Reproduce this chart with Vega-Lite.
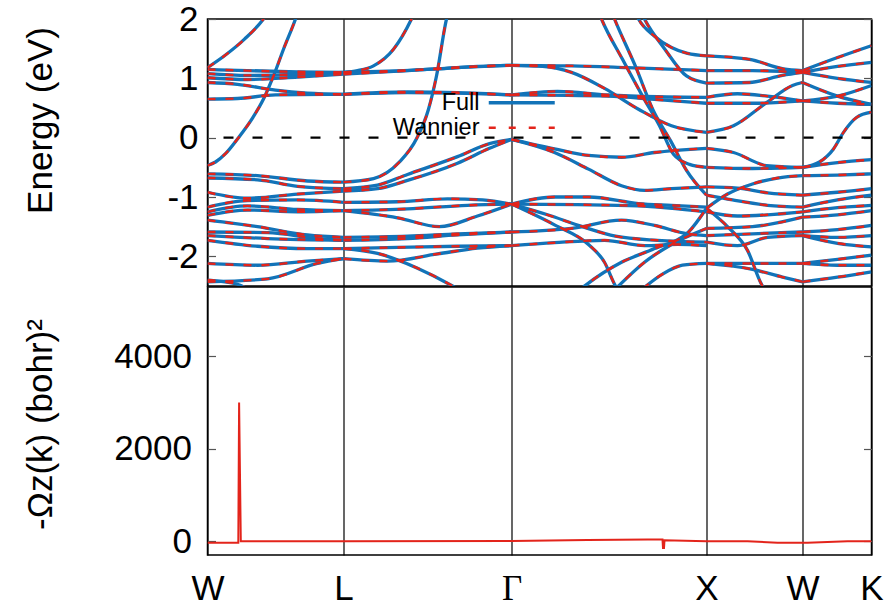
{
"$schema": "https://vega.github.io/schema/vega-lite/v6.json",
"padding": {"left": 21.5, "top": 1, "right": 5, "bottom": 0},
"config": {
  "font": "Liberation Sans",
  "view": {"stroke": "black", "strokeWidth": 1.5},
  "axis": {"labelFont": "Liberation Sans", "labelFontSize": 35, "titleFont": "Liberation Sans", "titleFontSize": 35, "titleFontWeight": "normal", "labelColor": "black", "titleColor": "black", "domain": false, "grid": false, "tickColor": "#555", "tickSize": -8, "tickWidth": 1.2}
},
"datasets": {
  "bands": [
    {"b":"a1","k":0,"e":1.18},{"b":"a1","k":17,"e":1.38},{"b":"a1","k":37,"e":1.66},{"b":"a1","k":56,"e":2.0},{"b":"a1","k":66,"e":2.25},
    {"b":"a2","k":0,"e":-0.47},{"b":"a2","k":8,"e":-0.41},{"b":"a2","k":18,"e":-0.27},{"b":"a2","k":31,"e":0},{"b":"a2","k":45,"e":0.33},{"b":"a2","k":56,"e":0.65},{"b":"a2","k":66,"e":1.04},{"b":"a2","k":76,"e":1.49},{"b":"a2","k":88,"e":2.0},{"b":"a2","k":94,"e":2.3},
    {"b":"a3","k":0,"e":1.15},{"b":"a3","k":40,"e":1.13},{"b":"a3","k":90,"e":1.11},{"b":"a3","k":136,"e":1.10},
    {"b":"a4","k":0,"e":1.08},{"b":"a4","k":40,"e":1.05},{"b":"a4","k":80,"e":1.06},{"b":"a4","k":136,"e":1.10},
    {"b":"a5","k":0,"e":1.01},{"b":"a5","k":40,"e":0.98},{"b":"a5","k":90,"e":1.02},{"b":"a5","k":136,"e":1.07},
    {"b":"a6","k":0,"e":0.93},{"b":"a6","k":30,"e":0.90},{"b":"a6","k":68,"e":0.80},{"b":"a6","k":100,"e":0.75},{"b":"a6","k":136,"e":0.73},
    {"b":"a7","k":0,"e":0.65},{"b":"a7","k":30,"e":0.66},{"b":"a7","k":68,"e":0.72},{"b":"a7","k":136,"e":0.73},
    {"b":"a8","k":0,"e":-0.61},{"b":"a8","k":50,"e":-0.64},{"b":"a8","k":100,"e":-0.73},{"b":"a8","k":136,"e":-0.75},
    {"b":"a9","k":0,"e":-0.68},{"b":"a9","k":50,"e":-0.71},{"b":"a9","k":90,"e":-0.82},{"b":"a9","k":136,"e":-0.86},
    {"b":"a10","k":0,"e":-0.92},{"b":"a10","k":40,"e":-1.02},{"b":"a10","k":90,"e":-0.95},{"b":"a10","k":136,"e":-0.90},
    {"b":"a11","k":0,"e":-1.17},{"b":"a11","k":40,"e":-1.06},{"b":"a11","k":90,"e":-1.05},{"b":"a11","k":136,"e":-1.09},
    {"b":"a12","k":0,"e":-1.25},{"b":"a12","k":40,"e":-1.15},{"b":"a12","k":90,"e":-1.21},{"b":"a12","k":136,"e":-1.23},
    {"b":"a13","k":0,"e":-1.31},{"b":"a13","k":40,"e":-1.22},{"b":"a13","k":90,"e":-1.25},{"b":"a13","k":136,"e":-1.23},
    {"b":"a14","k":0,"e":-1.39},{"b":"a14","k":50,"e":-1.50},{"b":"a14","k":100,"e":-1.64},{"b":"a14","k":136,"e":-1.68},
    {"b":"a15","k":0,"e":-1.59},{"b":"a15","k":60,"e":-1.60},{"b":"a15","k":110,"e":-1.70},{"b":"a15","k":136,"e":-1.73},
    {"b":"a16","k":0,"e":-1.65},{"b":"a16","k":60,"e":-1.70},{"b":"a16","k":136,"e":-1.73},
    {"b":"a17","k":0,"e":-1.73},{"b":"a17","k":50,"e":-1.83},{"b":"a17","k":100,"e":-1.87},{"b":"a17","k":136,"e":-1.87},
    {"b":"a18","k":0,"e":-2.12},{"b":"a18","k":50,"e":-2.15},{"b":"a18","k":100,"e":-2.08},{"b":"a18","k":136,"e":-2.04},
    {"b":"a19","k":0,"e":-2.43},{"b":"a19","k":60,"e":-2.38},{"b":"a19","k":110,"e":-2.12},{"b":"a19","k":136,"e":-2.04},
    {"b":"a20","k":0,"e":-2.40},{"b":"a20","k":30,"e":-2.47},{"b":"a20","k":45,"e":-2.6},
    {"b":"b1","k":136,"e":1.10},{"b":"b1","k":150,"e":1.13},{"b":"b1","k":166,"e":1.21},{"b":"b1","k":186,"e":1.49},{"b":"b1","k":204,"e":2.0},{"b":"b1","k":212,"e":2.3},
    {"b":"b2","k":136,"e":1.10},{"b":"b2","k":180,"e":1.12},{"b":"b2","k":230,"e":1.16},{"b":"b2","k":270,"e":1.20},{"b":"b2","k":304,"e":1.22},
    {"b":"b3","k":136,"e":1.07},{"b":"b3","k":200,"e":1.13},{"b":"b3","k":260,"e":1.19},{"b":"b3","k":304,"e":1.22},
    {"b":"b4","k":136,"e":0.73},{"b":"b4","k":200,"e":0.77},{"b":"b4","k":250,"e":0.76},{"b":"b4","k":304,"e":0.72},
    {"b":"b5","k":136,"e":0.73},{"b":"b5","k":200,"e":0.76},{"b":"b5","k":250,"e":0.75},{"b":"b5","k":304,"e":0.72},
    {"b":"b6","k":136,"e":-0.75},{"b":"b6","k":166,"e":-0.69},{"b":"b6","k":192,"e":-0.41},{"b":"b6","k":209,"e":-0.02},{"b":"b6","k":221,"e":0.48},{"b":"b6","k":229,"e":1.04},{"b":"b6","k":239,"e":2.0},{"b":"b6","k":244,"e":2.3},
    {"b":"b7","k":136,"e":-0.86},{"b":"b7","k":170,"e":-0.80},{"b":"b7","k":200,"e":-0.62},{"b":"b7","k":250,"e":-0.32},{"b":"b7","k":282,"e":-0.10},{"b":"b7","k":304,"e":-0.03},
    {"b":"b8","k":136,"e":-0.90},{"b":"b8","k":170,"e":-0.86},{"b":"b8","k":200,"e":-0.72},{"b":"b8","k":250,"e":-0.43},{"b":"b8","k":282,"e":-0.18},{"b":"b8","k":304,"e":-0.03},
    {"b":"b9","k":136,"e":-1.09},{"b":"b9","k":190,"e":-1.08},{"b":"b9","k":240,"e":-1.03},{"b":"b9","k":275,"e":-1.05},{"b":"b9","k":304,"e":-1.12},
    {"b":"b10","k":136,"e":-1.23},{"b":"b10","k":190,"e":-1.35},{"b":"b10","k":232,"e":-1.50},{"b":"b10","k":270,"e":-1.32},{"b":"b10","k":304,"e":-1.12},
    {"b":"b11","k":136,"e":-1.23},{"b":"b11","k":200,"e":-1.20},{"b":"b11","k":260,"e":-1.14},{"b":"b11","k":304,"e":-1.12},
    {"b":"b12","k":136,"e":-1.68},{"b":"b12","k":200,"e":-1.66},{"b":"b12","k":250,"e":-1.62},{"b":"b12","k":304,"e":-1.59},
    {"b":"b13","k":136,"e":-1.73},{"b":"b13","k":200,"e":-1.70},{"b":"b13","k":250,"e":-1.64},{"b":"b13","k":304,"e":-1.59},
    {"b":"b14","k":136,"e":-1.87},{"b":"b14","k":190,"e":-1.85},{"b":"b14","k":250,"e":-1.83},{"b":"b14","k":304,"e":-1.82},
    {"b":"b15","k":136,"e":-2.04},{"b":"b15","k":180,"e":-2.08},{"b":"b15","k":230,"e":-1.96},{"b":"b15","k":270,"e":-1.86},{"b":"b15","k":304,"e":-1.82},
    {"b":"b16","k":136,"e":-1.87},{"b":"b16","k":170,"e":-1.95},{"b":"b16","k":210,"e":-2.20},{"b":"b16","k":245,"e":-2.5},{"b":"b16","k":255,"e":-2.6},
    {"b":"c1","k":304,"e":1.22},{"b":"c1","k":364,"e":1.21},{"b":"c1","k":420,"e":1.18},{"b":"c1","k":499,"e":1.13},
    {"b":"c2","k":304,"e":1.22},{"b":"c2","k":335,"e":1.20},{"b":"c2","k":364,"e":1.10},{"b":"c2","k":397,"e":0.83},{"b":"c2","k":431,"e":0.48},{"b":"c2","k":464,"e":0.20},{"b":"c2","k":499,"e":0.09},
    {"b":"c3","k":304,"e":0.72},{"b":"c3","k":350,"e":0.78},{"b":"c3","k":400,"e":0.72},{"b":"c3","k":450,"e":0.69},{"b":"c3","k":499,"e":0.68},
    {"b":"c4","k":304,"e":0.72},{"b":"c4","k":400,"e":0.70},{"b":"c4","k":450,"e":0.64},{"b":"c4","k":499,"e":0.58},
    {"b":"c5","k":387,"e":2.3},{"b":"c5","k":394,"e":2.0},{"b":"c5","k":415,"e":1.32},{"b":"c5","k":436,"e":0.67},{"b":"c5","k":452,"e":0.2},{"b":"c5","k":466,"e":-0.28},{"b":"c5","k":482,"e":-0.45},{"b":"c5","k":499,"e":-0.5},
    {"b":"c6","k":400,"e":2.3},{"b":"c6","k":407,"e":2.0},{"b":"c6","k":428,"e":1.2},{"b":"c6","k":446,"e":0.45},{"b":"c6","k":463,"e":-0.05},{"b":"c6","k":479,"e":-0.55},{"b":"c6","k":499,"e":-0.97},
    {"b":"c7","k":424,"e":2.25},{"b":"c7","k":431,"e":2.0},{"b":"c7","k":447,"e":1.71},{"b":"c7","k":464,"e":1.52},{"b":"c7","k":480,"e":1.42},{"b":"c7","k":499,"e":1.38},
    {"b":"c8","k":430,"e":2.25},{"b":"c8","k":437,"e":2.0},{"b":"c8","k":457,"e":1.5},{"b":"c8","k":479,"e":1.04},{"b":"c8","k":499,"e":0.92},
    {"b":"c9","k":304,"e":-0.03},{"b":"c9","k":347,"e":-0.19},{"b":"c9","k":381,"e":-0.30},{"b":"c9","k":414,"e":-0.33},{"b":"c9","k":447,"e":-0.25},{"b":"c9","k":499,"e":-0.18},
    {"b":"c10","k":304,"e":-0.03},{"b":"c10","k":347,"e":-0.25},{"b":"c10","k":381,"e":-0.53},{"b":"c10","k":414,"e":-0.81},{"b":"c10","k":437,"e":-0.89},{"b":"c10","k":464,"e":-0.86},{"b":"c10","k":499,"e":-0.83},
    {"b":"c11","k":304,"e":-1.12},{"b":"c11","k":347,"e":-1.0},{"b":"c11","k":381,"e":-1.0},{"b":"c11","k":431,"e":-1.11},{"b":"c11","k":464,"e":-1.14},{"b":"c11","k":499,"e":-1.17},
    {"b":"c12","k":304,"e":-1.12},{"b":"c12","k":370,"e":-1.13},{"b":"c12","k":430,"e":-1.15},{"b":"c12","k":499,"e":-1.25},
    {"b":"c13","k":304,"e":-1.12},{"b":"c13","k":340,"e":-1.3},{"b":"c13","k":375,"e":-1.5},{"b":"c13","k":408,"e":-1.66},{"b":"c13","k":450,"e":-1.73},{"b":"c13","k":499,"e":-1.76},
    {"b":"c14","k":304,"e":-1.12},{"b":"c14","k":347,"e":-1.47},{"b":"c14","k":381,"e":-1.8},{"b":"c14","k":397,"e":-2.1},{"b":"c14","k":408,"e":-2.5},{"b":"c14","k":412,"e":-2.6},
    {"b":"c15","k":304,"e":-1.59},{"b":"c15","k":364,"e":-1.53},{"b":"c15","k":414,"e":-1.39},{"b":"c15","k":447,"e":-1.48},{"b":"c15","k":480,"e":-1.62},{"b":"c15","k":499,"e":-1.65},
    {"b":"c16","k":304,"e":-1.82},{"b":"c16","k":347,"e":-1.77},{"b":"c16","k":397,"e":-1.73},{"b":"c16","k":437,"e":-1.82},{"b":"c16","k":470,"e":-1.80},{"b":"c16","k":499,"e":-1.82},
    {"b":"c17","k":370,"e":-2.6},{"b":"c17","k":378,"e":-2.49},{"b":"c17","k":414,"e":-2.1},{"b":"c17","k":447,"e":-1.87},{"b":"c17","k":481,"e":-1.59},{"b":"c17","k":499,"e":-1.19},
    {"b":"c18","k":405,"e":-2.6},{"b":"c18","k":411,"e":-2.5},{"b":"c18","k":437,"e":-2.1},{"b":"c18","k":464,"e":-1.8},{"b":"c18","k":499,"e":-1.53},
    {"b":"c19","k":435,"e":-2.55},{"b":"c19","k":455,"e":-2.3},{"b":"c19","k":475,"e":-2.15},{"b":"c19","k":499,"e":-2.12},
    {"b":"d1","k":499,"e":1.38},{"b":"d1","k":542,"e":1.32},{"b":"d1","k":576,"e":1.16},{"b":"d1","k":595,"e":1.13},
    {"b":"d2","k":499,"e":1.13},{"b":"d2","k":545,"e":1.13},{"b":"d2","k":595,"e":1.10},
    {"b":"d3","k":499,"e":0.92},{"b":"d3","k":542,"e":0.93},{"b":"d3","k":575,"e":1.05},{"b":"d3","k":595,"e":1.10},
    {"b":"d4","k":499,"e":0.68},{"b":"d4","k":530,"e":0.74},{"b":"d4","k":560,"e":0.70},{"b":"d4","k":595,"e":0.62},
    {"b":"d5","k":499,"e":0.58},{"b":"d5","k":545,"e":0.58},{"b":"d5","k":595,"e":0.62},
    {"b":"d6","k":499,"e":0.09},{"b":"d6","k":526,"e":0.2},{"b":"d6","k":559,"e":0.59},{"b":"d6","k":585,"e":0.88},{"b":"d6","k":595,"e":0.93},
    {"b":"d7","k":499,"e":-0.18},{"b":"d7","k":526,"e":-0.25},{"b":"d7","k":559,"e":-0.47},{"b":"d7","k":595,"e":-0.5},
    {"b":"d8","k":499,"e":-0.5},{"b":"d8","k":545,"e":-0.52},{"b":"d8","k":595,"e":-0.5},
    {"b":"d9","k":499,"e":-0.83},{"b":"d9","k":530,"e":-0.85},{"b":"d9","k":560,"e":-0.93},{"b":"d9","k":595,"e":-0.97},
    {"b":"d10","k":499,"e":-1.19},{"b":"d10","k":520,"e":-0.95},{"b":"d10","k":545,"e":-0.78},{"b":"d10","k":570,"e":-0.68},{"b":"d10","k":595,"e":-0.64},
    {"b":"d11","k":499,"e":-0.97},{"b":"d11","k":525,"e":-1.05},{"b":"d11","k":560,"e":-1.14},{"b":"d11","k":595,"e":-1.17},
    {"b":"d12","k":499,"e":-1.25},{"b":"d12","k":530,"e":-1.32},{"b":"d12","k":560,"e":-1.30},{"b":"d12","k":595,"e":-1.25},
    {"b":"d13","k":499,"e":-1.19},{"b":"d13","k":520,"e":-1.5},{"b":"d13","k":540,"e":-1.9},{"b":"d13","k":555,"e":-2.5},{"b":"d13","k":560,"e":-2.6},
    {"b":"d14","k":499,"e":-1.53},{"b":"d14","k":545,"e":-1.50},{"b":"d14","k":595,"e":-1.34},
    {"b":"d15","k":499,"e":-1.65},{"b":"d15","k":545,"e":-1.62},{"b":"d15","k":595,"e":-1.59},
    {"b":"d16","k":499,"e":-1.76},{"b":"d16","k":530,"e":-1.82},{"b":"d16","k":560,"e":-1.68},{"b":"d16","k":595,"e":-1.65},
    {"b":"d17","k":499,"e":-2.12},{"b":"d17","k":545,"e":-2.12},{"b":"d17","k":595,"e":-2.12},
    {"b":"d18","k":499,"e":-2.12},{"b":"d18","k":545,"e":-2.22},{"b":"d18","k":575,"e":-2.35},{"b":"d18","k":595,"e":-2.43},
    {"b":"e1","k":595,"e":1.13},{"b":"e1","k":630,"e":1.35},{"b":"e1","k":664,"e":1.55},
    {"b":"e2","k":595,"e":1.10},{"b":"e2","k":630,"e":1.20},{"b":"e2","k":664,"e":1.27},
    {"b":"e3","k":595,"e":1.10},{"b":"e3","k":630,"e":1.00},{"b":"e3","k":664,"e":0.93},
    {"b":"e4","k":595,"e":0.93},{"b":"e4","k":630,"e":0.70},{"b":"e4","k":664,"e":0.56},
    {"b":"e5","k":595,"e":0.62},{"b":"e5","k":630,"e":0.70},{"b":"e5","k":664,"e":0.88},
    {"b":"e6","k":595,"e":0.62},{"b":"e6","k":630,"e":0.58},{"b":"e6","k":664,"e":0.56},
    {"b":"e7","k":595,"e":-0.5},{"b":"e7","k":612,"e":-0.41},{"b":"e7","k":626,"e":-0.19},{"b":"e7","k":636,"e":0.09},{"b":"e7","k":649,"e":0.34},{"b":"e7","k":664,"e":0.43},
    {"b":"e8","k":595,"e":-0.5},{"b":"e8","k":630,"e":-0.42},{"b":"e8","k":664,"e":-0.37},
    {"b":"e9","k":595,"e":-0.64},{"b":"e9","k":630,"e":-0.63},{"b":"e9","k":664,"e":-0.61},
    {"b":"e10","k":595,"e":-0.97},{"b":"e10","k":630,"e":-0.92},{"b":"e10","k":664,"e":-0.86},
    {"b":"e11","k":595,"e":-1.17},{"b":"e11","k":630,"e":-1.05},{"b":"e11","k":664,"e":-0.97},
    {"b":"e12","k":595,"e":-1.25},{"b":"e12","k":630,"e":-1.18},{"b":"e12","k":664,"e":-1.14},
    {"b":"e13","k":595,"e":-1.34},{"b":"e13","k":630,"e":-1.30},{"b":"e13","k":664,"e":-1.23},
    {"b":"e14","k":595,"e":-1.59},{"b":"e14","k":630,"e":-1.55},{"b":"e14","k":664,"e":-1.48},
    {"b":"e15","k":595,"e":-1.65},{"b":"e15","k":630,"e":-1.68},{"b":"e15","k":664,"e":-1.65},
    {"b":"e16","k":595,"e":-1.65},{"b":"e16","k":630,"e":-1.78},{"b":"e16","k":664,"e":-1.84},
    {"b":"e17","k":595,"e":-2.12},{"b":"e17","k":630,"e":-2.05},{"b":"e17","k":664,"e":-1.98},
    {"b":"e18","k":595,"e":-2.12},{"b":"e18","k":630,"e":-2.15},{"b":"e18","k":664,"e":-2.15},
    {"b":"e19","k":595,"e":-2.43},{"b":"e19","k":630,"e":-2.35},{"b":"e19","k":664,"e":-2.26}
  ],
  "berry": [
    {"k":0,"v":-36},{"k":30.8,"v":-36},{"k":31.6,"v":3000},{"k":33.3,"v":0},{"k":136,"v":0},{"k":304,"v":5},{"k":380,"v":25},{"k":440,"v":35},{"k":455,"v":35},{"k":455.5,"v":-150},{"k":456.5,"v":-150},{"k":457,"v":20},{"k":499,"v":0},{"k":540,"v":0},{"k":570,"v":-35},{"k":600,"v":-35},{"k":640,"v":0},{"k":664,"v":0}
  ]
},
"spacing": -3,
"vconcat": [
  {
    "width": 664, "height": 267,
    "layer": [
      {
        "data": {"name": "bands"},
        "mark": {"type": "line", "interpolate": "monotone", "strokeWidth": 3.3, "clip": true},
        "encoding": {
          "x": {"field": "k", "type": "quantitative", "scale": {"domain": [0, 664], "nice": false, "zero": false},
                "axis": {"values": [0, 136, 304, 499, 595, 664], "labels": false, "ticks": false, "domain": false, "grid": true, "gridColor": "black", "gridWidth": 1.2, "gridOpacity": 1, "title": null}},
          "y": {"field": "e", "type": "quantitative", "scale": {"domain": [-2.5, 2], "nice": false, "zero": false},
                "axis": {"values": [-2, -1, 0, 1, 2], "labelExpr": "'' + datum.value", "labelPadding": 17.5, "title": "Energy (eV)", "titleX": -167.5, "titleY": 101, "titleAlign": "center", "titleBaseline": "middle", "titleAngle": 270}},
          "detail": {"field": "b"},
          "color": {"datum": "Full", "type": "nominal", "scale": {"domain": ["Full", "Wannier"], "range": ["#1273b8", "#e3241b"]},
                    "legend": {"orient": "none", "legendX": 302.5, "legendY": 72, "title": null, "labelFontSize": 23.5, "labelFont": "Liberation Sans", "labelColor": "black", "labelAlign": "right", "labelOffset": -54, "symbolSize": 4356, "symbolType": "stroke", "padding": 0, "rowPadding": 0,
                               "encode": {"symbols": {"update": {"strokeDash": {"signal": "datum.value === 'Wannier' ? [7,13] : [1,0]"}, "strokeWidth": {"signal": "datum.value === 'Wannier' ? 2.4 : 3.3"}}}}}}
        }
      },
      {
        "data": {"name": "bands"},
        "mark": {"type": "line", "interpolate": "monotone", "strokeWidth": 2.4, "strokeDash": [8, 10], "clip": true},
        "encoding": {
          "x": {"field": "k", "type": "quantitative", "scale": {"domain": [0, 664], "nice": false, "zero": false}},
          "y": {"field": "e", "type": "quantitative", "scale": {"domain": [-2.5, 2], "nice": false, "zero": false}, "axis": null},
          "detail": {"field": "b"},
          "color": {"datum": "Wannier", "type": "nominal", "scale": {"domain": ["Full", "Wannier"], "range": ["#1273b8", "#e3241b"]}}
        }
      },
      {
        "data": {"values": [{}]},
        "mark": {"type": "rule", "strokeDash": [10, 19], "strokeWidth": 2.4, "color": "black"},
        "encoding": {
          "y": {"datum": 0, "type": "quantitative", "scale": {"domain": [-2.5, 2], "nice": false, "zero": false},
                "axis": {"orient": "right", "values": [-2, -1, 0, 1, 2], "labels": false, "title": null, "domain": false, "grid": false}}
        }
      }
    ],
    "resolve": {"axis": {"y": "independent"}}
  },
  {
    "width": 664, "height": 268,
    "layer": [
      {
        "data": {"name": "berry"},
        "mark": {"type": "line", "color": "#e3241b", "strokeWidth": 2, "clip": true},
        "encoding": {
          "x": {"field": "k", "type": "quantitative", "scale": {"domain": [0, 664], "nice": false, "zero": false},
                "axis": {"values": [0, 136, 304, 499, 595, 664], "labelExpr": "datum.value == 0 ? 'W' : datum.value == 136 ? 'L' : datum.value == 304 ? 'Γ' : datum.value == 499 ? 'X' : datum.value == 595 ? 'W' : 'K'",
                         "labelFont": {"condition": {"test": "datum.value == 304", "value": "Liberation Serif"}, "value": "Liberation Sans"},
                         "labelPadding": 16, "labelFlush": false, "labelOverlap": false, "labelBound": false, "ticks": false, "domain": false, "grid": true, "gridColor": "black", "gridWidth": 1.2, "gridOpacity": 1, "title": null}},
          "y": {"field": "v", "type": "quantitative", "scale": {"domain": [-300, 5500], "nice": false, "zero": false},
                "axis": {"values": [0, 2000, 4000], "labelExpr": "'' + datum.value", "labelPadding": 24, "title": "-Ωz(k)  (bohr)²", "titleX": -167.5, "titleY": 137, "titleAlign": "center", "titleBaseline": "middle", "titleAngle": 270}}
        }
      },
      {
        "data": {"values": [{}]},
        "mark": {"type": "rule", "opacity": 0},
        "encoding": {
          "y": {"datum": 0, "type": "quantitative", "scale": {"domain": [-300, 5500], "nice": false, "zero": false},
                "axis": {"orient": "right", "values": [0, 2000, 4000], "labels": false, "title": null, "domain": false, "grid": false}}
        }
      }
    ],
    "resolve": {"axis": {"y": "independent"}}
  }
]
}
